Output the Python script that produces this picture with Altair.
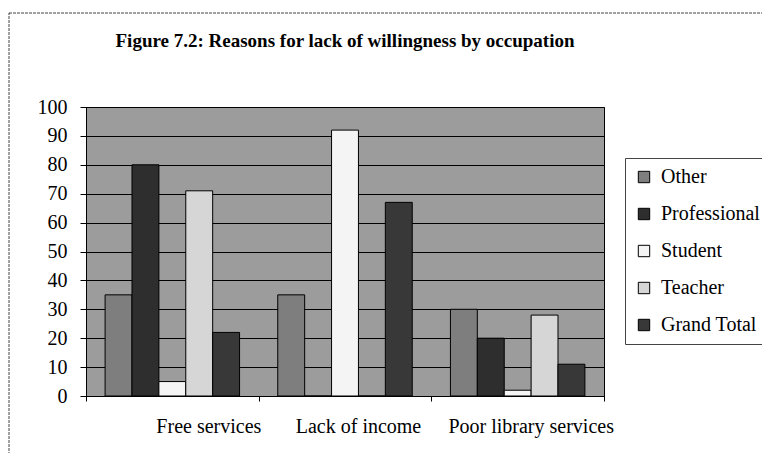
import altair as alt
import pandas as pd

categories = ["Free services", "Lack of income", "Poor library services"]
series = ["Other", "Professional", "Student", "Teacher", "Grand Total"]
other = [35, 35, 30]
professional = [80, 0, 20]
student = [5, 92, 2]
teacher = [71, 0, 28]
grand_total = [22, 67, 11]
y_ticks = [0, 10, 20, 30, 40, 50, 60, 70, 80, 90, 100]
colors = ["#7e7e7e", "#2e2e2e", "#f4f4f4", "#d6d6d6", "#383838"]

rows = []
for s, vals in zip(series, [other, professional, student, teacher, grand_total]):
    for c, v in zip(categories, vals):
        rows.append({"Reason": c, "Occupation": s, "Value": v})
df = pd.DataFrame(rows)

FONT = "Liberation Serif"

bars = alt.Chart(df).mark_bar(stroke="black", strokeWidth=1).encode(
    x=alt.X("Reason:N", sort=categories, title=None,
            scale=alt.Scale(paddingInner=0, paddingOuter=0),
            axis=alt.Axis(labelAngle=0, tickBand="extent", grid=False,
                          domainColor="black", tickColor="black", tickSize=5,
                          labelFont=FONT, labelFontSize=20, labelColor="black",
                          labelPadding=15,
                          labelOffset={"condition": {"test": "datum.value == 'Free services'", "value": 36}, "value": 13})),
    xOffset=alt.XOffset("Occupation:N", sort=series,
                        scale=alt.Scale(paddingInner=0, paddingOuter=0.71)),
    y=alt.Y("Value:Q", title=None,
            scale=alt.Scale(domain=[0, 100]),
            axis=alt.Axis(values=y_ticks, grid=True, gridColor="black", gridOpacity=1,
                          gridWidth=1, domainColor="black", tickColor="black", tickSize=6,
                          labelFont=FONT, labelFontSize=20, labelColor="black",
                          labelPadding=13)),
    color=alt.Color("Occupation:N", sort=series,
                    scale=alt.Scale(domain=series, range=colors),
                    legend=alt.Legend(title=None, orient="none", legendX=539, legendY=51,
                                      symbolType="square", symbolSize=130,
                                      symbolStrokeColor="black", symbolStrokeWidth=1,
                                      labelFont=FONT, labelFontSize=20, labelColor="black",
                                      labelOffset=7, rowPadding=17, padding=9,
                                      strokeColor="#444",
                                      fillColor="white", labelLimit=300)),
)

border = alt.Chart(pd.DataFrame({"a": [0]})).mark_rect(
    fill=None, stroke="#444", strokeWidth=1, strokeDash=[3, 1]
).encode(x=alt.value(-77), x2=alt.value(900), y=alt.value(-94), y2=alt.value(700))

chart = alt.layer(border, bars).properties(
    width=518, height=289,
    autosize=alt.AutoSizeParams(type="none"),
    padding={"left": 78, "top": 99, "right": 158, "bottom": 57},
    title=alt.TitleParams("Figure 7.2: Reasons for lack of willingness by occupation",
                          font=FONT, fontSize=19, fontWeight="bold", color="black",
                          anchor="middle", offset=0, dy=38),
).configure(background="white", font=FONT
).configure_view(fill="#9c9c9c", stroke="black", strokeWidth=1)

chart.save("out.html", embed_options={"renderer": "svg", "actions": False})
